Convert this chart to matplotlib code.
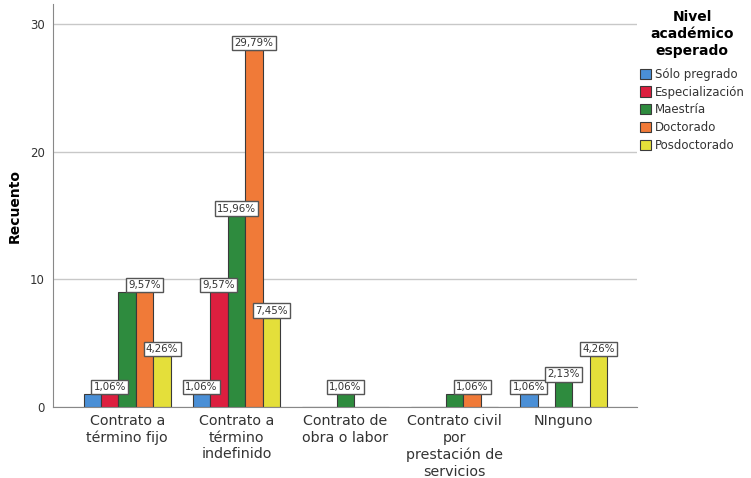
import numpy as np
import matplotlib.pyplot as plt
from matplotlib.patches import Patch

# counts per contract type (N = 94)
contratos = ['Contrato a\ntérmino fijo', 'Contrato a\ntérmino\nindefinido',
             'Contrato de\nobra o labor', 'Contrato civil\npor\nprestación de\nservicios',
             'NInguno']
niveles = ['Sólo pregrado', 'Especialización', 'Maestría', 'Doctorado', 'Posdoctorado']
solo_pregrado = [1, 1, 0, 0, 1]
especializacion = [1, 9, 0, 0, 0]
maestria = [9, 15, 1, 1, 2]
doctorado = [9, 28, 0, 1, 0]
posdoctorado = [4, 7, 0, 0, 4]
total = 94

colores = ['#4a8fd6', '#dc1f3f', '#2e8b3e', '#f07a38', '#e4df3a']
series = [solo_pregrado, especializacion, maestria, doctorado, posdoctorado]

fig = plt.figure(figsize=(7.51, 4.78), dpi=100)
ax = fig.add_axes([0.0706, 0.1485, 0.848 - 0.0706, 0.9916 - 0.1485])

x = np.arange(len(contratos))
w = 0.16
for i, vals in enumerate(series):
    pos = x + (i - 2) * w
    ax.bar(pos, vals, width=w, color=colores[i], edgecolor='#3a3a3a', linewidth=0.8, zorder=2)

# percentage labels; a label hidden under its right neighbour (same height) is skipped
for g in range(len(contratos)):
    for i, vals in enumerate(series):
        v = vals[g]
        if v == 0:
            continue
        if i + 1 < len(series) and series[i + 1][g] == v:
            continue
        txt = f'{v / total * 100:.2f}%'.replace('.', ',')
        ax.annotate(txt, (x[g] + (i - 2) * w, v), xytext=(0, 1.5), textcoords='offset points',
                    ha='center', va='bottom', fontsize=7.4, color='#333333',
                    bbox=dict(boxstyle='square,pad=0.22', fc='white', ec='#555555', lw=1.0),
                    zorder=5)

ax.set_xlim(-0.68, 4.67)
ax.set_ylim(0, 31.6)
ax.set_yticks([0, 10, 20, 30])
ax.tick_params(axis='y', length=0, labelsize=8.5, labelcolor='#333333', pad=6)
ax.set_xticks(x)
ax.set_xticklabels(contratos, fontsize=10.3, color='#333333', linespacing=1.25)
ax.tick_params(axis='x', length=0, pad=5)
ax.grid(axis='y', color='#c8c8c8', linewidth=1.0, zorder=0)
ax.set_axisbelow(True)
for s in ['top', 'right']:
    ax.spines[s].set_visible(False)
ax.spines['left'].set_color('#888888')
ax.spines['bottom'].set_color('#888888')
ax.set_ylabel('Recuento', fontsize=10, fontweight='bold')
ax.yaxis.set_label_coords(-0.053, 0.5)

handles = [Patch(facecolor=c, edgecolor='#3a3a3a', linewidth=0.8) for c in colores]
leg = fig.legend(handles, niveles, loc='upper left', bbox_to_anchor=(0.852, 0.98),
                 title='Nivel\nacadémico\nesperado', fontsize=8.5, frameon=False,
                 handlelength=0.95, handleheight=0.95, handletextpad=0.3,
                 labelspacing=0.4, borderaxespad=0, borderpad=0)
leg.get_title().set_fontweight('bold')
leg.get_title().set_fontsize(10)
leg.get_title().set_multialignment('center')
leg.get_title().set_linespacing(1.3)
leg._legend_box.sep = 7
for t in leg.get_texts():
    t.set_color('#333333')

fig.savefig('out.png', dpi=100)
